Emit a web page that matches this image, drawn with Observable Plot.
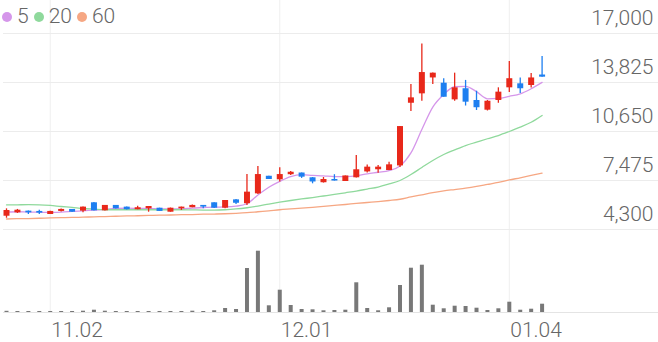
<!DOCTYPE html>
<html>
<head>
<meta charset="utf-8">
<script src="https://cdn.jsdelivr.net/npm/d3@7"></script>
<script src="https://cdn.jsdelivr.net/npm/@observablehq/plot@0.6"></script>
<style>
  html, body { margin: 0; padding: 0; background: #fff; }
  #chart { position: relative; width: 658px; height: 342px; overflow: hidden; font-family: Roboto, "Noto Sans", sans-serif; }
  #chart svg { position: absolute; left: 0; top: 0; background: transparent; }
  #legend { position: absolute; left: 2px; top: 6px; display: flex; align-items: center; font-size: 21px; font-weight: 300; color: #666; z-index: 5; line-height: 21px; }
  #legend .item { display: flex; align-items: center; margin-right: 5px; }
  #legend .dot { width: 10px; height: 10px; border-radius: 50%; margin-right: 5px; }
</style>
</head>
<body>
<div id="chart"><div id="legend"></div></div>
<script>
// ---- data ----
const dates = ["10.27","10.30","10.31","11.01","11.02","11.03","11.06","11.07","11.08","11.09",
  "11.10","11.13","11.14","11.15","11.16","11.17","11.20","11.21","11.22","11.23",
  "11.24","11.27","11.28","11.29","11.30","12.01","12.04","12.05","12.06","12.07",
  "12.08","12.11","12.12","12.13","12.14","12.15","12.18","12.19","12.20","12.21",
  "12.22","12.26","12.27","12.28","01.02","01.03","01.04","01.05","01.08","01.09"];
const open  = [5160,5380,5490,5470,5270,5470,5600,5490,6030,5510,
  5860,5750,5580,5640,5680,5420,5640,5710,5860,6030,
  5680,6220,5970,6610,7750,7520,7850,7960,7650,7330,
  7540,7410,7650,8030,8170,8120,8420,12480,13090,14120,
  13780,12700,13420,12660,12030,12660,13480,13740,13630,14310];
const high  = [5640,5600,5500,5550,5480,5630,5600,5750,6050,5860,
  5860,5760,5810,5790,5680,5690,5750,5890,5860,6030,
  6180,6240,7860,8380,7750,8300,8060,7960,7670,7670,
  7850,7770,9100,8480,8450,8660,10970,13700,16320,14440,
  14070,14430,13960,13260,12660,13480,15190,14120,14410,15510];
const low   = [5030,5340,5270,5270,5270,5430,5400,5380,5500,5500,
  5630,5560,5580,5420,5470,5420,5530,5710,5640,5660,
  5640,5920,5860,6570,7540,7370,7800,7610,7260,7310,
  7440,7410,7640,7960,7950,8120,8320,11950,12610,13700,
  12870,12610,12300,12010,11980,12480,13180,13110,13470,14170];
const close = [5530,5550,5380,5360,5470,5600,5420,5750,5510,5860,
  5640,5580,5710,5790,5470,5680,5750,5860,5750,5680,
  6180,6000,6720,7860,7540,7860,8010,7690,7380,7540,
  7440,7770,8170,8340,8340,8490,10970,12830,14470,14430,
  12870,13480,12550,12190,12610,13200,14070,13420,14120,14170];
// volume, thousand shares
const volume = [60,50,50,50,50,50,50,65,115,65,
  50,50,50,50,50,50,50,65,50,85,
  200,150,2200,3065,335,1115,350,150,135,85,
  100,115,1485,200,85,235,1350,2215,2365,365,
  185,315,300,215,100,185,515,115,165,415];
const ma5  = [5430,5450,5430,5420,5410,5430,5470,5510,5560,5600,
  5660,5680,5670,5660,5640,5630,5640,5690,5720,5750,
  5760,5810,5970,6540,7040,7420,7730,7850,7810,7780,
  7730,7730,7770,7910,8010,8120,8420,9260,10780,12230,
  13050,13550,13570,13230,12770,12790,12930,13090,13420,13830];
const ma20 = [5890,5900,5910,5900,5860,5790,5730,5660,5620,5580,
  5580,5580,5580,5580,5580,5580,5580,5570,5560,5560,
  5580,5630,5710,5820,5950,6070,6180,6280,6370,6470,
  6570,6680,6790,6920,7050,7250,7475,7860,8320,8770,
  9160,9460,9740,9960,10180,10390,10650,10930,11250,11690];
const ma60 = [4980,5000,5010,5030,5050,5070,5080,5100,5120,5140,
  5160,5180,5190,5210,5230,5240,5260,5270,5290,5300,
  5320,5350,5390,5450,5510,5580,5630,5680,5740,5800,
  5860,5920,5990,6050,6110,6180,6260,6410,6550,6690,
  6800,6890,6980,7090,7220,7350,7510,7650,7800,7950];
const maNames = ["5", "20", "60"];
const maColors = ["#d596ea", "#8fd99c", "#f6a783"];
const yTicks = [4300, 7475, 10650, 13825, 17000];
const xTickLabels = ["11.02", "12.01", "01.04"];

// ---- build ----
const UP = "#e8281a", DOWN = "#1e7ff0";
const candles = dates.map((d, i) => ({
  i, date: d, open: open[i], high: high[i], low: low[i], close: close[i], volume: volume[i]
}));
const maSeries = [ma5, ma20, ma60];
const maData = maSeries.flatMap((arr, k) => arr.map((v, i) => ({i, v, name: maNames[k]})));
const xTickIdx = xTickLabels.map(l => dates.indexOf(l));
const color = d => d.close >= d.open ? UP : DOWN;

const W = 658, H = 342;
const xDomain = [-0.2745, 59.65];
const common = {width: W, height: H, marginLeft: 3, marginRight: 0,
  style: {background: "transparent", overflow: "visible"}};
const FONT = "Roboto, 'Noto Sans', sans-serif";

const grid = Plot.plot({
  ...common, marginTop: 0, marginBottom: 30,
  x: {domain: xDomain, axis: null},
  marks: [
    Plot.ruleX(xTickIdx, {x: d => d, stroke: "#efefef", strokeWidth: 1}),
    Plot.text(xTickIdx, {x: d => d, text: (d, j) => xTickLabels[j], frameAnchor: "bottom",
      textAnchor: "start", lineAnchor: "middle", dx: 1, dy: 17.5, fontSize: 21, fontWeight: 300,
      fill: "#666", fontFamily: FONT})
  ]
});

const price = Plot.plot({
  ...common, marginTop: 33, marginBottom: 113,
  x: {domain: xDomain, axis: null},
  y: {domain: [4300, 17000], axis: null},
  color: {domain: maNames, range: maColors},
  marks: [
    Plot.ruleY(yTicks, {y: d => d, stroke: "#ececec", strokeWidth: 1}),
    Plot.text(yTicks, {y: d => d, text: d => d3.format(",")(d), frameAnchor: "right",
      textAnchor: "end", lineAnchor: "middle", dx: -5, dy: -15.5, fontSize: 21, fontWeight: 300,
      fill: "#666", fontFamily: FONT}),
    Plot.line(maData, {x: "i", y: "v", z: "name", stroke: "name", strokeWidth: 1.3, curve: "monotone-x"}),
    Plot.ruleX(candles, {x: "i", y1: "low", y2: "high", stroke: color, strokeWidth: 1.3}),
    Plot.ruleX(candles, {x: "i", y1: "open", y2: "close", stroke: color, strokeWidth: 6})
  ]
});

const vol = Plot.plot({
  ...common, marginTop: 240, marginBottom: 30,
  x: {domain: xDomain, axis: null},
  y: {domain: [0, 3600], axis: null},
  marks: [
    Plot.ruleY([0], {stroke: "#e4e4e4", strokeWidth: 1}),
    Plot.ruleX(candles, {x: "i", y1: 0, y2: "volume", stroke: "#787878", strokeWidth: 4})
  ]
});

const chart = document.getElementById("chart");
chart.appendChild(grid);
chart.appendChild(price);
chart.appendChild(vol);

const legend = document.getElementById("legend");
maNames.forEach((n, k) => {
  const item = document.createElement("div");
  item.className = "item";
  const dot = document.createElement("span");
  dot.className = "dot";
  dot.style.background = maColors[k];
  const t = document.createElement("span");
  t.textContent = n;
  item.appendChild(dot); item.appendChild(t);
  legend.appendChild(item);
});
</script>
</body>
</html>
